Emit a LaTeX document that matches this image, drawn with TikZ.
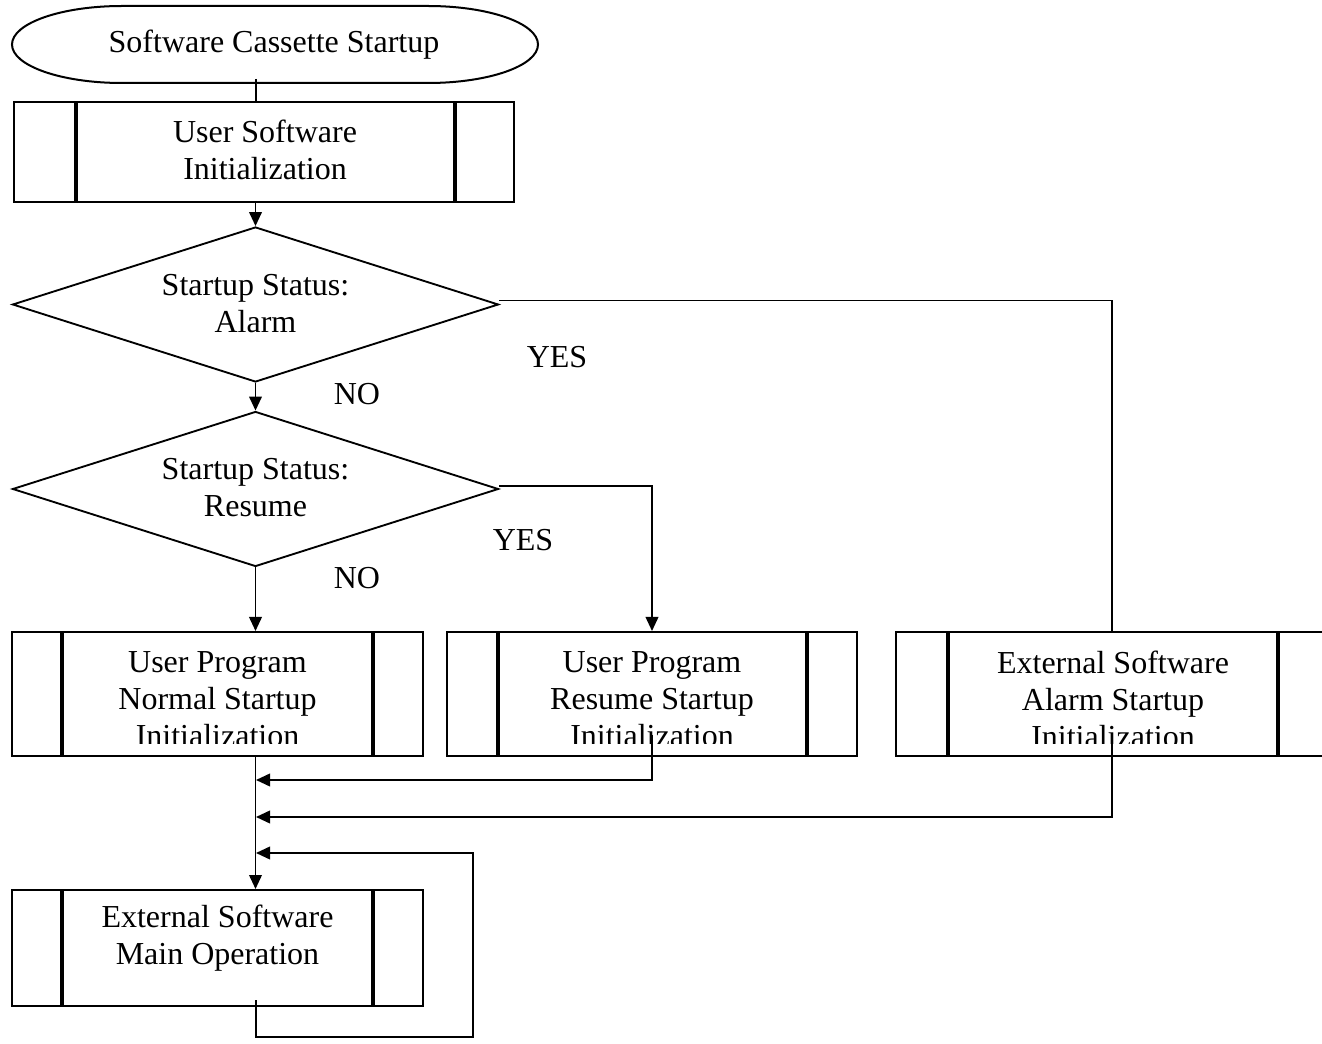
\documentclass[tikz,border=0pt]{standalone}
\usepackage{fontspec}
\setmainfont{Liberation Serif}
\usetikzlibrary{shapes.geometric,arrows.meta}
\begin{document}
\begin{tikzpicture}[x=0.75pt,y=-0.75pt,
  txt/.style={font=\fontsize{24}{27.75}\selectfont, align=center, inner sep=0pt},
  pbox/.style={draw, line width=1.5pt, rectangle, inner sep=0pt},
  bar/.style={line width=2.4pt},
  dia/.style={draw, line width=1.4pt, diamond, inner sep=0pt, minimum width=364.5pt, minimum height=116.25pt},
  conn/.style={line width=1.25pt},
  arr/.style={conn, -{Triangle[length=10.5pt,width=9.5pt]}}]
\useasboundingbox (0,0) rectangle (1322,1044);
% terminal
\draw[line width=1.5pt] (122,6) -- (428,6) arc[start angle=90, end angle=-90, x radius=82.5pt, y radius=28.875pt] -- (122,83) arc[start angle=270, end angle=90, x radius=82.5pt, y radius=28.875pt] -- cycle;
\node[txt] (start) at (274,45) {Software Cassette Startup};
% box 1
\node[pbox, minimum width=375pt, minimum height=75pt] (b1) at (264,152) {};
\draw[bar] (76,102) -- (76,202) (455,102) -- (455,202);
\node[txt] (b1t) at (265,150) {User Software\\Initialization};
% diamonds
\node[dia] (d1) at (255.5,304.5) {};
\node[txt] (d1t) at (255.5,304) {Startup Status:\\Alarm};
\node[dia] (d2) at (255.5,489) {};
\node[txt] (d2t) at (255.5,488) {Startup Status:\\Resume};
% boxes row
\node[pbox, minimum width=308.25pt, minimum height=93pt] (normal) at (217.5,694) {};
\draw[bar] (62,632) -- (62,756) (373,632) -- (373,756);
\node[pbox, minimum width=307.5pt, minimum height=93pt] (resume) at (652,694) {};
\draw[bar] (498,632) -- (498,756) (807,632) -- (807,756);
\node[pbox, minimum width=324pt, minimum height=93pt] (ext) at (1112,694) {};
\draw[bar] (948,632) -- (948,756) (1278,632) -- (1278,756);
\begin{scope}
\clip (0,600) rectangle (1322,744);
\node[txt] (normalt) at (217.5,699) {User Program\\Normal Startup\\Initialization};
\node[txt] (resumet) at (652,699) {User Program\\Resume Startup\\Initialization};
\node[txt] (extt) at (1113,699) {External Software\\Alarm Startup\\Initialization};
\end{scope}
% main box
\node[pbox, minimum width=308.25pt, minimum height=87pt] (main) at (217.5,948) {};
\draw[bar] (62,890) -- (62,1006) (373,890) -- (373,1006);
\node[txt] (maint) at (217.5,938) {External Software\\Main Operation};
% labels
\node[txt] (yes1) at (557,357) {YES};
\node[txt] (no1) at (357,394) {NO};
\node[txt] (yes2) at (523,540) {YES};
\node[txt] (no2) at (357,578) {NO};
% connectors
\coordinate (s1) at (256,79);
\draw[conn] (s1) -- (s1 |- b1.north);
\draw[arr] (b1.south -| d1.north) -- (d1.north);
\draw[arr] (d1.south) -- (d2.north);
\draw[conn] ([yshift=3pt]d1.east) -| (ext.north);
\draw[arr] ([yshift=2pt]d2.east) -| (resume.north);
\draw[arr] (d2.south) -- (d2.south |- normal.north);
\draw[arr] (normal.south -| d2.south) -- (main.north -| d2.south);
\coordinate (rs) at (652,735);
\coordinate (j1) at (256,780);
\draw[arr] (rs) |- (j1);
\coordinate (es) at (1112,735);
\coordinate (j2) at (256,817);
\draw[arr] (es) |- (j2);
\coordinate (ms) at (256,1000);
\coordinate (lp) at (473,1037);
\coordinate (j3) at (256,853);
\draw[arr] (ms) |- (lp) |- (j3);
\end{tikzpicture}
\end{document}
